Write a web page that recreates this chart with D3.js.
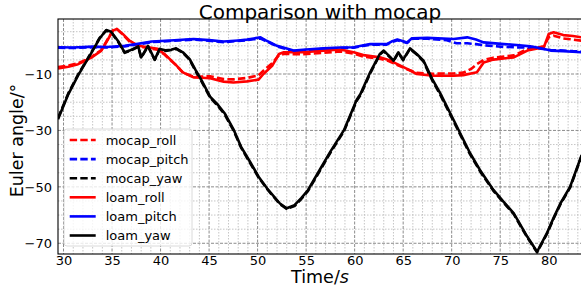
<!DOCTYPE html>
<html>
<head>
<meta charset="utf-8">
<script src="https://cdn.jsdelivr.net/npm/d3@7"></script>
<style>
  body { margin: 0; background: #fff; }
  svg { display: block; font-family: "DejaVu Sans", sans-serif; }
</style>
</head>
<body>
<div id="chart"></div>
<script>
// [time in s, angle in degrees]
var mocapRoll = [[29.43,-7.5],[30.5,-7.0],[31.5,-6.2],[32.3,-5.0],[32.9,-3.9],[33.9,-1.5],[34.6,2.6],[35.1,5.5],[35.5,5.9],[36.1,4.0],[36.8,1.5],[37.7,-0.2],[38.7,-0.8],[39.7,-1.4],[40.4,-3.1],[41.5,-6.6],[42.3,-9.5],[43.4,-11.0],[44.3,-10.9],[45.1,-10.8],[46.5,-11.8],[47.5,-11.9],[48.9,-11.4],[50.1,-10.5],[50.6,-8.8],[51.5,-6.2],[52.2,-3.3],[52.7,-2.9],[54.7,-3.0],[56.8,-2.5],[58.5,-2.0],[59.9,-2.8],[60.9,-3.8],[62.6,-4.6],[63.5,-5.4],[64.4,-6.8],[65.4,-8.3],[66.4,-9.6],[68.1,-9.9],[70.2,-9.8],[71.2,-9.5],[72.0,-8.2],[72.6,-6.5],[73.3,-5.0],[74.3,-4.2],[76.4,-3.4],[77.8,-1.2],[79.5,-0.2],[80.0,3.0],[80.5,3.6],[81.5,2.6],[82.5,2.2],[83.4,1.8]];
var mocapPitch = [[29.43,-0.7],[31,-0.8],[33,-0.5],[34.5,-0.6],[36.3,-0.2],[37.5,0.4],[39.1,1.3],[41,1.7],[43.4,2.2],[45,1.8],[46.5,1.3],[48.0,1.7],[48.9,2.0],[49.6,2.3],[50.3,2.6],[50.8,1.8],[51.4,0.8],[52.0,-0.2],[53.0,-1.2],[53.7,-1.9],[55,-1.5],[56.8,-1.1],[58.5,-0.8],[59.9,-0.7],[60.8,-0.1],[61.6,0.4],[63.3,0.4],[63.8,1.3],[64.4,2.0],[65.0,1.4],[65.4,1.0],[65.9,2.5],[67.5,2.5],[69.5,2.0],[70.5,0.9],[71.6,0.9],[72.5,0.6],[73.3,0.2],[75.4,-0.4],[77,-0.6],[78.1,-0.6],[79.2,-1.0],[80.2,-1.5],[81.5,-1.7],[82.5,-1.9],[83.4,-2.0]];
var mocapYaw = [[29.43,-25.6],[30.5,-16.8],[31.5,-10.2],[32.9,-2.1],[33.7,2.7],[34.4,5.4],[34.9,4.8],[35.6,1.6],[36.3,-2.5],[36.8,-1.9],[37.7,-0.4],[38.0,-4.3],[38.7,-0.2],[39.4,-5.0],[39.9,-1.3],[40.5,-1.8],[41.1,-1.5],[41.6,-1.1],[42.3,-2.5],[43.0,-5.0],[43.6,-8.9],[44.2,-12.5],[45.1,-18.3],[45.8,-20.9],[46.6,-24.3],[47.5,-29.9],[48.3,-36.1],[49.2,-41.4],[50.1,-46.7],[51.1,-51.3],[52.3,-56.1],[53.0,-57.8],[53.8,-56.8],[54.5,-54.3],[55.2,-51.4],[56.5,-43.8],[57.5,-37.9],[58.9,-30.3],[60.2,-19.6],[60.6,-17.5],[61.6,-9.8],[62.6,-3.1],[63.0,-1.9],[63.7,-4.3],[64.0,-5.5],[64.5,-2.5],[65.0,-5.1],[65.7,-1.1],[66.4,-3.1],[67.1,-5.6],[68.0,-12.3],[68.8,-17.2],[70.2,-26.8],[71.9,-38.5],[73.0,-44.9],[74.3,-51.4],[75.4,-55.8],[76.4,-59.7],[77.8,-68.0],[78.8,-73.2],[79.8,-66.8],[80.5,-61.3],[81.2,-56.2],[82.2,-50.3],[83.4,-39.0]];
var loamRoll = [[29.43,-8.0],[30.5,-7.4],[31.5,-6.5],[32.3,-5.2],[32.9,-4.1],[33.9,-1.7],[34.6,2.4],[35.1,5.4],[35.5,6.0],[36.1,4.2],[36.8,1.8],[37.7,0.0],[38.7,-0.5],[39.7,-1.1],[40.4,-2.9],[41.5,-6.5],[42.3,-9.4],[43.4,-11.2],[44.3,-11.3],[45.1,-11.5],[46.5,-12.7],[47.5,-13.0],[48.9,-12.6],[50.1,-12.0],[50.6,-10.0],[51.5,-7.1],[52.2,-2.9],[52.7,-2.3],[54.7,-2.3],[56.8,-1.7],[58.5,-1.3],[59.9,-2.3],[60.9,-3.3],[62.6,-4.1],[63.5,-5.0],[64.4,-6.5],[65.4,-8.2],[66.4,-10.0],[68.1,-10.6],[70.2,-10.6],[71.2,-10.4],[72.6,-9.4],[73.3,-5.9],[74.3,-4.9],[76.4,-4.1],[77.8,-1.7],[79.5,-0.5],[80.0,4.2],[80.5,4.8],[81.5,3.8],[82.5,3.5],[83.4,3.0]];
var loamPitch = [[29.43,-0.5],[31,-0.6],[33,-0.3],[34.5,-0.4],[36.3,0.0],[37.5,0.6],[39.1,1.5],[41,1.9],[43.4,2.4],[45,2.0],[46.5,1.5],[48.0,1.9],[48.9,2.2],[49.6,2.6],[50.3,3.0],[50.8,2.0],[51.4,1.0],[52.0,0.0],[53.0,-1.0],[53.7,-1.7],[55,-1.3],[56.8,-0.9],[58.5,-0.6],[59.9,-0.5],[60.8,0.1],[61.6,0.6],[63.3,0.6],[63.8,1.5],[64.4,2.2],[65.0,1.6],[65.4,1.2],[65.9,2.7],[67.5,2.8],[70.2,2.4],[71.6,3.0],[72.5,2.2],[73.3,1.2],[75.4,0.6],[77,0.2],[78.1,-0.2],[79.2,-0.9],[80.2,-1.7],[81.5,-1.9],[82.5,-2.1],[83.4,-2.3]];
var loamYaw = [[29.43,-26.0],[30.5,-17.1],[31.5,-10.5],[32.9,-2.3],[33.7,2.5],[34.4,5.6],[34.9,5.0],[35.6,1.8],[36.3,-2.3],[36.8,-1.7],[37.7,-0.2],[38.0,-4.1],[38.7,0.0],[39.4,-4.9],[39.9,-1.1],[40.5,-1.6],[41.1,-1.4],[41.6,-0.9],[42.3,-2.3],[43.0,-4.7],[43.6,-8.5],[44.2,-12.1],[45.1,-18.0],[45.8,-20.5],[46.6,-23.9],[47.5,-29.5],[48.3,-35.8],[49.2,-41.0],[50.1,-46.4],[51.1,-51.1],[52.3,-55.9],[53.0,-57.6],[53.8,-56.5],[54.5,-54.0],[55.2,-51.1],[56.5,-43.4],[57.5,-37.5],[58.9,-29.9],[60.2,-19.2],[60.6,-17.1],[61.6,-9.4],[62.6,-2.9],[63.0,-1.7],[63.7,-4.1],[64.0,-5.3],[64.5,-2.3],[65.0,-4.9],[65.7,-0.9],[66.4,-2.9],[67.1,-5.3],[68.0,-11.8],[68.8,-16.7],[70.2,-26.3],[71.9,-38.1],[73.0,-44.5],[74.3,-51.1],[75.4,-55.5],[76.4,-59.4],[77.8,-67.7],[78.8,-73.0],[79.8,-66.5],[80.5,-61.0],[81.2,-55.9],[82.2,-50.0],[83.4,-38.7]];

var seriesNames = ["mocap_roll", "mocap_pitch", "mocap_yaw", "loam_roll", "loam_pitch", "loam_yaw"];
var seriesData = [mocapRoll, mocapPitch, mocapYaw, loamRoll, loamPitch, loamYaw];
var seriesColors = ["#ff0000", "#0000ff", "#000000", "#ff0000", "#0000ff", "#000000"];
var seriesDashed = [true, true, true, false, false, false];

var xTicks = [30, 35, 40, 45, 50, 55, 60, 65, 70, 75, 80];
var yTicks = [-70, -50, -30, -10];

var width = 581, height = 287;
var plotLeft = 58, plotTop = 19, plotRight = 582, plotBottom = 254;

var svg = d3.select("#chart").append("svg").attr("width", width).attr("height", height);

var x = d3.scaleLinear().domain([29.43, 83.43]).range([plotLeft, plotRight]);
var y = d3.scaleLinear().domain([-73.8, 9.5]).range([plotBottom, plotTop]);

svg.append("rect")
    .attr("x", plotLeft).attr("y", plotTop)
    .attr("width", plotRight - plotLeft).attr("height", plotBottom - plotTop)
    .attr("fill", "#fff");

// grid: minor first, major on top
var grid = svg.append("g");
var minorX = d3.range(30, 84, 1).filter(function(t) { return t % 5 != 0; });
var minorY = d3.range(-70, 10, 5).filter(function(v) { return yTicks.indexOf(v) < 0; });

grid.selectAll(".mx").data(minorX).enter().append("line")
    .attr("x1", function(d) { return x(d); }).attr("x2", function(d) { return x(d); })
    .attr("y1", plotTop).attr("y2", plotBottom)
    .attr("stroke", "#b8b8b8").attr("stroke-width", 0.8).attr("stroke-dasharray", "1.5,1.5");
grid.selectAll(".my").data(minorY).enter().append("line")
    .attr("x1", plotLeft).attr("x2", plotRight)
    .attr("y1", function(d) { return y(d); }).attr("y2", function(d) { return y(d); })
    .attr("stroke", "#b8b8b8").attr("stroke-width", 0.8).attr("stroke-dasharray", "1.5,1.5");
grid.selectAll(".gx").data(xTicks).enter().append("line")
    .attr("x1", function(d) { return x(d); }).attr("x2", function(d) { return x(d); })
    .attr("y1", plotTop).attr("y2", plotBottom)
    .attr("stroke", "#8c8c8c").attr("stroke-width", 1).attr("stroke-dasharray", "3,1.5");
grid.selectAll(".gy").data(yTicks).enter().append("line")
    .attr("x1", plotLeft).attr("x2", plotRight)
    .attr("y1", function(d) { return y(d); }).attr("y2", function(d) { return y(d); })
    .attr("stroke", "#8c8c8c").attr("stroke-width", 1).attr("stroke-dasharray", "3,1.5");

svg.append("clipPath").attr("id", "clip")
    .append("rect").attr("x", plotLeft).attr("y", plotTop)
    .attr("width", plotRight - plotLeft).attr("height", plotBottom - plotTop);

var line = d3.line()
    .x(function(d) { return x(d[0]); })
    .y(function(d) { return y(d[1]); });

var plot = svg.append("g").attr("clip-path", "url(#clip)");
for (var i = 0; i < seriesData.length; i++) {
    plot.append("path")
        .attr("d", line(seriesData[i]))
        .attr("fill", "none")
        .attr("stroke", seriesColors[i])
        .attr("stroke-width", 2.6)
        .attr("stroke-linejoin", "round")
        .attr("stroke-dasharray", seriesDashed[i] ? "7.4,3.2" : null);
}

// frame
svg.append("rect")
    .attr("x", plotLeft).attr("y", plotTop)
    .attr("width", plotRight - plotLeft).attr("height", plotBottom - plotTop)
    .attr("fill", "none").attr("stroke", "#000").attr("stroke-width", 1.1);

// axes, tick labels only
var xAxis = svg.append("g").attr("transform", "translate(0," + plotBottom + ")")
    .call(d3.axisBottom(x).tickValues(xTicks).tickSize(0).tickPadding(2));
var yAxis = svg.append("g").attr("transform", "translate(" + plotLeft + ",0)")
    .call(d3.axisLeft(y).tickValues(yTicks).tickSize(0).tickPadding(6)
        .tickFormat(function(d) { return "\u2212" + Math.abs(d); }));
[xAxis, yAxis].forEach(function(a) {
    a.select(".domain").remove();
    a.selectAll("text").attr("font-family", "DejaVu Sans").attr("font-size", 13).attr("fill", "#000");
});

// title and labels
svg.append("text")
    .attr("x", (plotLeft + plotRight) / 2).attr("y", 18.5)
    .attr("text-anchor", "middle").attr("font-size", 20).attr("fill", "#000")
    .text("Comparison with mocap");

var xl = svg.append("text")
    .attr("x", (plotLeft + plotRight) / 2).attr("y", 283)
    .attr("text-anchor", "middle").attr("font-size", 17.5).attr("fill", "#000");
xl.append("tspan").text("Time/");
xl.append("tspan").attr("font-style", "italic").text("s");

svg.append("text")
    .attr("transform", "translate(23," + ((plotTop + plotBottom) / 2 + 4) + ") rotate(-90)")
    .attr("text-anchor", "middle").attr("font-size", 17.5).attr("fill", "#000")
    .text("Euler angle/\u00b0");

// legend
var legend = svg.append("g");
legend.append("rect")
    .attr("x", 64).attr("y", 129).attr("width", 128).attr("height", 117)
    .attr("rx", 3).attr("fill", "#fff").attr("fill-opacity", 0.8)
    .attr("stroke", "#d0d0d0").attr("stroke-width", 0.8);
for (var j = 0; j < seriesNames.length; j++) {
    var ly = 140 + j * 19.1;
    legend.append("line")
        .attr("x1", 69.7).attr("x2", 95.7).attr("y1", ly).attr("y2", ly)
        .attr("stroke", seriesColors[j]).attr("stroke-width", 2.6)
        .attr("stroke-dasharray", seriesDashed[j] ? "7.4,3.2" : null);
    legend.append("text")
        .attr("x", 105.7).attr("y", ly).attr("dy", "0.35em")
        .attr("font-size", 13).attr("fill", "#000")
        .text(seriesNames[j]);
}
</script>
</body>
</html>
